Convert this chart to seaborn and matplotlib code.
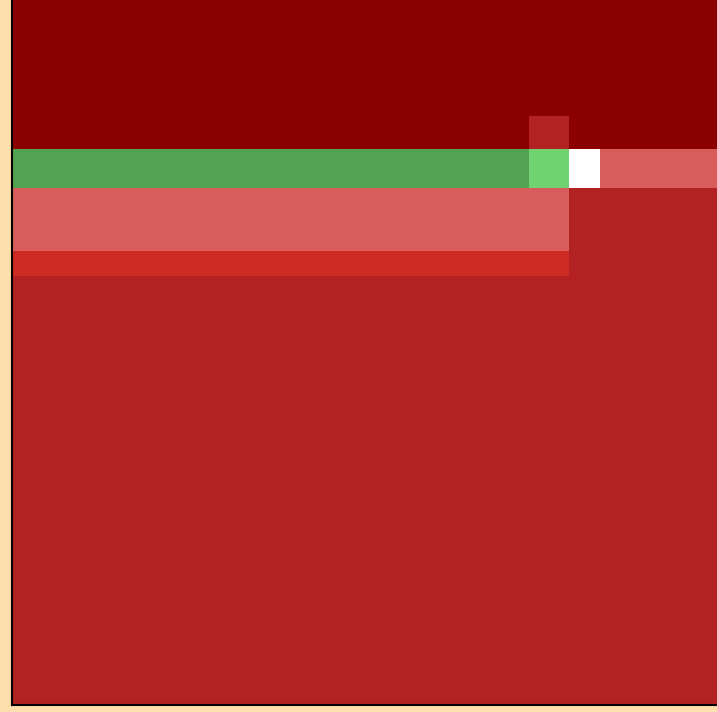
import numpy as np
import seaborn as sns
import matplotlib
matplotlib.use("Agg")
import matplotlib.pyplot as plt
from matplotlib.colors import ListedColormap, BoundaryNorm

sns.set_theme(style="white")

# cell edges (irregular bins)
x_edges = [0, 517, 557, 588, 705]
y_edges = [0, 116, 149, 188, 251, 276, 704]

# colour codes per cell, rows top to bottom
palette = ["#8B0000", "#B22222", "#51A351", "#6FD46F", "#FFFFFF", "#D95C5C", "#CC2A22"]
row0 = [0, 0, 0, 0]
row1 = [0, 1, 0, 0]
row2 = [2, 3, 4, 5]
row3 = [5, 5, 1, 1]
row4 = [6, 6, 1, 1]
row5 = [1, 1, 1, 1]
cells = np.array([row0, row1, row2, row3, row4, row5])

fig = plt.figure(figsize=(7.17, 7.12), dpi=100)
fig.patch.set_facecolor("#FFDEAD")
ax = fig.add_axes([11.5 / 717, 7.5 / 712, 706 / 717, 705 / 712])

cmap = ListedColormap(palette)
norm = BoundaryNorm(np.arange(-0.5, len(palette) + 0.5), cmap.N)
ax.pcolormesh(x_edges, y_edges, cells, cmap=cmap, norm=norm)
ax.set_xlim(x_edges[0], x_edges[-1])
ax.set_ylim(y_edges[-1], y_edges[0])
ax.set_xticks([])
ax.set_yticks([])
for side in ["top", "right"]:
    ax.spines[side].set_visible(False)
for side in ["left", "bottom"]:
    ax.spines[side].set_color("black")
    ax.spines[side].set_linewidth(1.5)

plt.savefig("out.png", dpi=100, facecolor=fig.get_facecolor())
plt.close()
